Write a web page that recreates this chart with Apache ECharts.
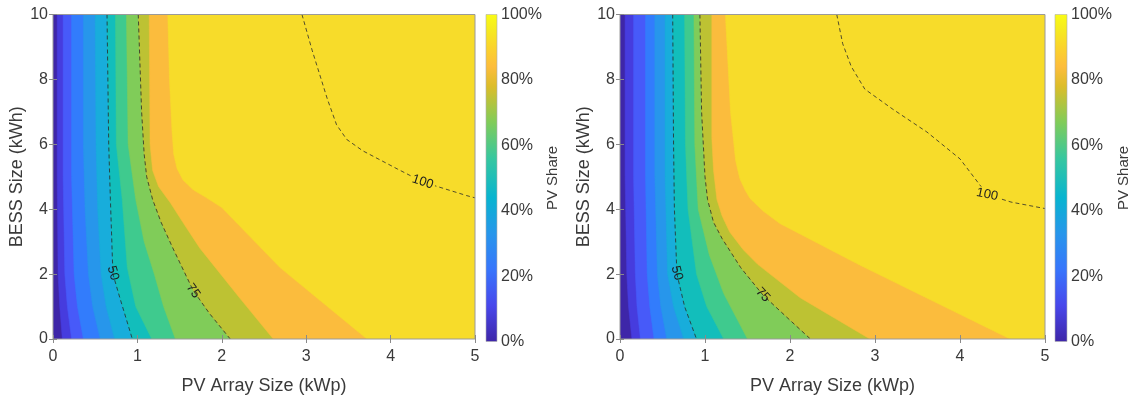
<!DOCTYPE html>
<html>
<head>
<meta charset="utf-8">
<title>PV Share vs PV array and BESS size</title>
<script src="https://cdn.jsdelivr.net/npm/echarts@6/dist/echarts.min.js"></script>
<style>
  html, body { margin: 0; padding: 0; background: #fff; }
  #chart { width: 1136px; height: 400px; }
</style>
</head>
<body>
<div id="chart"></div>
<script>
'use strict';

// tick values
var xTicks = [0, 1, 2, 3, 4, 5];
var yTicks = [0, 2, 4, 6, 8, 10];
var shareTicks = [0, 20, 40, 60, 80, 100];

// filled contour levels (PV share %), one colour per band (parula)
var levels = [0, 8.33, 16.67, 25, 33.33, 41.67, 50, 58.33, 66.67, 75, 83.33, 91.67];
var bandColors = ['#3e26a8', '#463cde', '#475af9', '#327cfc', '#2796eb', '#18addb',
  '#12bebb', '#3fca8e', '#80cc59', '#bdc233', '#fbbc3d', '#f7dc2a'];

// parula colormap for the colorbar [share %, colour]
var parulaStops = [[0, '#3e26a8'], [11, '#4847eb'], [22, '#3875fc'], [33, '#2796eb'],
  [44, '#08b4d0'], [56, '#37c79f'], [67, '#80cc59'], [78, '#dcbd29'], [84, '#fdbd3c'],
  [89, '#fbd02e'], [95, '#f6e921'], [100, '#f9fb15']];

// ---- left panel: band boundaries [PV kWp, BESS kWh], top to bottom/right
var left50 = [[0.64, 10], [0.66, 6], [0.68, 4.3], [0.71, 2], [0.80, 1.2], [0.94, 0]];
var left75 = [[1.01, 10], [1.05, 7], [1.08, 5.7], [1.11, 5], [1.18, 4.3], [1.28, 3.6], [1.42, 2.8],
  [1.66, 1.5], [1.85, 0.8], [2.10, 0]];
var left100 = [[2.95, 10], [3.07, 8.9], [3.25, 7.4], [3.36, 6.6], [3.48, 6.15], [3.67, 5.8],
  [4.08, 5.24], [4.38, 4.84], [4.9, 4.42], [5, 4.35]];
var leftBounds = [
  [[0.05, 10], [0.05, 5], [0.06, 2], [0.08, 1], [0.11, 0]],
  [[0.12, 10], [0.12, 5], [0.14, 2], [0.17, 1], [0.22, 0]],
  [[0.22, 10], [0.22, 5], [0.25, 2], [0.29, 1], [0.36, 0]],
  [[0.36, 10], [0.36, 6], [0.38, 4], [0.42, 2], [0.47, 1], [0.56, 0]],
  [[0.50, 10], [0.51, 6], [0.53, 4], [0.57, 2], [0.63, 1], [0.73, 0]],
  left50,
  [[0.74, 10], [0.75, 6], [0.82, 4.3], [0.88, 2.2], [0.98, 1], [1.17, 0]],
  [[0.87, 10], [0.89, 6], [0.98, 4.3], [1.08, 3], [1.20, 2], [1.31, 1], [1.45, 0]],
  left75,
  [[1.14, 10], [1.15, 6], [1.18, 5.2], [1.25, 4.7], [1.39, 4.2], [1.55, 3.55], [1.74, 2.8],
    [2.21, 1.27], [2.61, 0]],
  [[1.36, 10], [1.38, 8], [1.41, 6.4], [1.43, 5.7], [1.47, 5.25], [1.54, 4.9], [1.66, 4.6],
    [1.82, 4.35], [2.0, 4.05], [2.69, 2.2], [3.72, 0]]
];
var leftLabels = [
  { text: '50', x: 0.71, y: 2.03, rot: -73, bg: null },
  { text: '75', x: 1.66, y: 1.48, rot: -55, bg: null },
  { text: '100', x: 4.38, y: 4.84, rot: -18, bg: '#f7dc2a' }
];

// ---- right panel
var right50 = [[0.62, 10], [0.63, 6], [0.64, 4], [0.67, 2], [0.76, 1], [0.90, 0]];
var right75 = [[0.94, 10], [0.96, 7], [1.0, 5], [1.03, 4.3], [1.1, 3.6], [1.2, 3.1], [1.42, 2.2],
  [1.68, 1.36], [1.95, 0.7], [2.24, 0]];
var right100 = [[2.55, 10], [2.62, 9.1], [2.72, 8.4], [2.88, 7.7], [3.21, 7.08], [3.61, 6.38],
  [4.0, 5.55], [4.32, 4.45], [4.6, 4.22], [5, 4.02]];
var rightBounds = [
  [[0.06, 10], [0.06, 5], [0.08, 2], [0.10, 1], [0.14, 0]],
  [[0.16, 10], [0.16, 5], [0.18, 2], [0.20, 1], [0.24, 0]],
  [[0.30, 10], [0.30, 5], [0.32, 2], [0.35, 1], [0.40, 0]],
  [[0.41, 10], [0.41, 5], [0.44, 2], [0.48, 1], [0.55, 0]],
  [[0.53, 10], [0.53, 5], [0.56, 2], [0.63, 1], [0.75, 0]],
  right50,
  [[0.76, 10], [0.77, 6], [0.80, 4], [0.90, 2], [1.02, 1], [1.22, 0]],
  [[0.87, 10], [0.88, 6], [0.92, 4], [1.05, 2.6], [1.22, 1.4], [1.50, 0]],
  right75,
  [[1.08, 10], [1.08, 6.2], [1.10, 5.2], [1.14, 4.3], [1.20, 3.8], [1.29, 3.3], [1.45, 2.75],
    [1.62, 2.3], [2.12, 1.27], [2.94, 0]],
  [[1.24, 10], [1.30, 7], [1.36, 5.5], [1.41, 4.94], [1.47, 4.6], [1.53, 4.33], [1.68, 3.95],
    [1.88, 3.56], [2.82, 2.28], [4.59, 0]]
];
var rightLabels = [
  { text: '50', x: 0.67, y: 2.03, rot: -75, bg: null },
  { text: '75', x: 1.68, y: 1.36, rot: -47, bg: null },
  { text: '100', x: 4.32, y: 4.45, rot: -12, bg: '#f7dc2a' }
];

var FONT = '"Liberation Sans", Arial, sans-serif';
var TXT = '#3a3a3a';
var X_MAX = xTicks[xTicks.length - 1];
var Y_MAX = yTicks[yTicks.length - 1];

//filled bands: each boundary fills everything to its right
function bandSeries(bounds, axis) {
  return {
    type: 'custom',
    xAxisIndex: axis,
    yAxisIndex: axis,
    silent: true,
    clip: true,
    z: 1,
    data: levels.map(function(l) { return [l]; }),
    renderItem: function(params, api) {
      var i = params.dataIndex;
      var pts;
      if (i === 0) {
        pts = [[0, 0], [X_MAX, 0], [X_MAX, Y_MAX], [0, Y_MAX]];
      } else {
        var b = bounds[i - 1];
        pts = b.slice();
        if (b[b.length - 1][1] <= 0) {
          pts.push([X_MAX, 0]);
        }
        pts.push([X_MAX, Y_MAX]);
      }
      return {
        type: 'polygon',
        shape: { points: pts.map(function(p) { return api.coord(p); }) },
        style: { fill: bandColors[i], stroke: bandColors[i], lineWidth: 0.5 }
      };
    }
  };
}

function contourLine(pts, axis) {
  return {
    type: 'line',
    xAxisIndex: axis,
    yAxisIndex: axis,
    data: pts,
    symbol: 'none',
    silent: true,
    z: 3,
    lineStyle: { color: '#2b2b2b', width: 1, type: [4, 3], opacity: 0.8 }
  };
}

function labelSeries(labels, axis) {
  return {
    type: 'custom',
    xAxisIndex: axis,
    yAxisIndex: axis,
    silent: true,
    z: 4,
    data: labels.map(function(l) { return [l.x, l.y]; }),
    renderItem: function(params, api) {
      var l = labels[params.dataIndex];
      var p = api.coord([l.x, l.y]);
      return {
        type: 'text',
        x: p[0],
        y: p[1],
        rotation: l.rot * Math.PI / 180,
        style: {
          text: l.text, fill: '#1e1e1e', font: '13px ' + FONT,
          align: 'center', verticalAlign: 'middle',
          backgroundColor: l.bg || 'transparent', padding: [0, 2]
        }
      };
    }
  };
}

function boxSeries(axis) {
  return {
    type: 'custom',
    xAxisIndex: axis,
    yAxisIndex: axis,
    silent: true,
    z: 5,
    data: [[0]],
    renderItem: function(params, api) {
      var a = api.coord([0, Y_MAX]);
      var b = api.coord([X_MAX, 0]);
      return {
        type: 'rect',
        shape: { x: a[0], y: a[1], width: b[0] - a[0], height: b[1] - a[1] },
        style: { fill: 'none', stroke: '#9a9a9a', lineWidth: 1 }
      };
    }
  };
}

function colorbarSeries(axis) {
  return {
    type: 'custom',
    xAxisIndex: axis,
    yAxisIndex: axis,
    silent: true,
    data: [[0]],
    renderItem: function(params, api) {
      var a = api.coord([0, 100]);
      var b = api.coord([1, 0]);
      var stops = parulaStops.map(function(s) {
        return { offset: s[0] / 100, color: s[1] };
      });
      return {
        type: 'rect',
        shape: { x: a[0], y: a[1], width: b[0] - a[0], height: b[1] - a[1] },
        style: {
          fill: new echarts.graphic.LinearGradient(0, 1, 0, 0, stops),
          stroke: '#b0b0b0', lineWidth: 0.6
        }
      };
    }
  };
}

function plotXAxis(grid, top) {
  return {
    type: 'value', gridIndex: grid, position: top ? 'top' : 'bottom',
    min: xTicks[0], max: X_MAX, interval: 1,
    name: top ? '' : 'PV Array Size (kWp)',
    nameLocation: 'middle', nameGap: 38,
    nameTextStyle: { fontFamily: FONT, fontSize: 18, color: TXT },
    axisLine: { show: false },
    axisTick: { show: true, inside: true, length: 4, lineStyle: { color: '#8a8a8a' } },
    axisLabel: { show: !top, margin: 10, fontFamily: FONT, fontSize: 16, color: TXT },
    splitLine: { show: false },
    z: 6
  };
}

function plotYAxis(grid, right) {
  return {
    type: 'value', gridIndex: grid, position: right ? 'right' : 'left',
    min: yTicks[0], max: Y_MAX, interval: 2,
    name: right ? '' : 'BESS Size (kWh)',
    nameLocation: 'middle', nameGap: 25, nameRotate: 90,
    nameTextStyle: { fontFamily: FONT, fontSize: 18, color: TXT },
    axisLine: { show: false },
    axisTick: { show: true, inside: true, length: 4, lineStyle: { color: '#8a8a8a' } },
    axisLabel: { show: !right, margin: 5, fontFamily: FONT, fontSize: 16, color: TXT },
    splitLine: { show: false },
    z: 6
  };
}

function barXAxis(grid) {
  return { type: 'value', gridIndex: grid, min: 0, max: 1, show: false };
}

function barYAxis(grid, gap) {
  return {
    type: 'value', gridIndex: grid, position: 'right',
    min: shareTicks[0], max: shareTicks[shareTicks.length - 1], interval: 20,
    name: 'PV Share', nameLocation: 'middle', nameGap: gap, nameRotate: 90,
    nameTextStyle: { fontFamily: FONT, fontSize: 15, color: TXT },
    axisLine: { show: false },
    axisTick: { show: false },
    axisLabel: { margin: 4, fontFamily: FONT, fontSize: 16, color: TXT, formatter: '{value}%' },
    splitLine: { show: false }
  };
}

var chart = echarts.init(document.getElementById('chart'), null, { renderer: 'canvas' });

chart.setOption({
  animation: false,
  backgroundColor: '#ffffff',
  grid: [
    { left: 53, top: 14.5, width: 422, height: 327 },
    { left: 486, top: 14.5, width: 11, height: 327 },
    { left: 620, top: 14.5, width: 425, height: 327 },
    { left: 1055, top: 14.5, width: 12, height: 327 }
  ],
  xAxis: [
    plotXAxis(0, false), plotXAxis(0, true), barXAxis(1),
    plotXAxis(2, false), plotXAxis(2, true), barXAxis(3)
  ],
  yAxis: [
    plotYAxis(0, false), plotYAxis(0, true), barYAxis(1, 43),
    plotYAxis(2, false), plotYAxis(2, true), barYAxis(3, 49)
  ],
  series: [
    bandSeries(leftBounds, 0),
    contourLine(left50, 0), contourLine(left75, 0), contourLine(left100, 0),
    labelSeries(leftLabels, 0),
    boxSeries(0),
    colorbarSeries(2),
    bandSeries(rightBounds, 3),
    contourLine(right50, 3), contourLine(right75, 3), contourLine(right100, 3),
    labelSeries(rightLabels, 3),
    boxSeries(3),
    colorbarSeries(5)
  ]
});
</script>
</body>
</html>
